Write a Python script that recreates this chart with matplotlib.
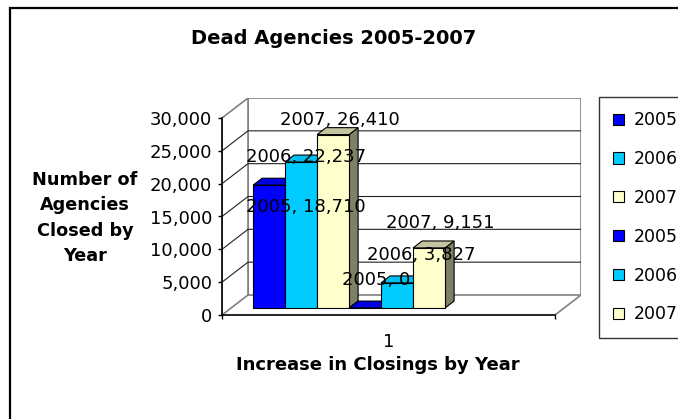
import matplotlib
matplotlib.use('Agg')
import matplotlib.pyplot as plt
from matplotlib.patches import Polygon, Rectangle, Patch

# data
series_names = ['2005', '2006', '2007', '2005', '2006', '2007']
closings = [18710, 22237, 26410, 0, 3827, 9151]
category = ['1']
y_ticks = [0, 5000, 10000, 15000, 20000, 25000, 30000]

front_colors = ['#0000FF', '#00CCFF', '#FFFFCC'] * 2
top_colors = ['#0000E0', '#00C0F0', '#C4C4A0'] * 2
side_colors = ['#000080', '#006680', '#808066'] * 2

W, H = 678, 419
fig = plt.figure(figsize=(W / 100, H / 100), dpi=100)

# plot box in pixels: front axis at x=222, zero at y=315, 30,000 at y=118
PX = 32.0                       # width of one bar
x0_px, y0_px = 222, 315
v_per_px = 30000 / 197
depth_px = (26, 20)

ax = fig.add_axes([x0_px / W, (H - y0_px) / H, 359 / W, 217 / H])
ax.set_xlim(0, 359 / PX)
ax.set_ylim(0, 217 * v_per_px)
DX = depth_px[0] / PX
DY = depth_px[1] * v_per_px
floor_w = 333 / PX
ymax = y_ticks[-1]


def shift(pts, t):
    return [(x + t * DX, y + t * DY) for x, y in pts]


# walls
ax.add_patch(Polygon(shift([(0, 0), (floor_w, 0), (floor_w, ymax), (0, ymax)], 1),
                     closed=True, fc='white', ec='#808080', lw=1.2, zorder=1))
ax.add_patch(Polygon([(0, 0), (DX, DY), (DX, DY + ymax), (0, ymax)],
                     closed=True, fc='white', ec='#808080', lw=1.2, zorder=1))
ax.plot([floor_w, floor_w + DX], [0, DY], color='#808080', lw=1.2, zorder=1)
for v in y_ticks[1:-1]:
    ax.plot([0, DX, DX + floor_w], [v, v + DY, v + DY], color='#222222', lw=0.8, zorder=1.5)

# bars
t0, t1 = 0.35, 0.35 + 9 / 26
dt = t1 - t0
bar_start = 22 / PX
for i, v in enumerate(closings):
    xl = bar_start + i
    z = 3 + i
    side = [(xl + 1, 0), (xl + 1, v), (xl + 1 + dt * DX, v + dt * DY), (xl + 1 + dt * DX, dt * DY)]
    top = [(xl, v), (xl + 1, v), (xl + 1 + dt * DX, v + dt * DY), (xl + dt * DX, v + dt * DY)]
    ax.add_patch(Polygon(shift(side, t0), closed=True, fc=side_colors[i], ec='black', lw=0.8, zorder=z))
    ax.add_patch(Polygon(shift(top, t0), closed=True, fc=top_colors[i], ec='black', lw=0.8, zorder=z))
    ax.bar(xl + t0 * DX, v, width=1, bottom=t0 * DY, align='edge', color=front_colors[i],
           edgecolor='black', lw=0.8, zorder=z + 0.1)

# axes lines and ticks
for s in ['top', 'right']:
    ax.spines[s].set_visible(False)
ax.spines['left'].set_bounds(0, ymax)
ax.spines['bottom'].set_bounds(0, floor_w)
for s in ['left', 'bottom']:
    ax.spines[s].set_linewidth(1.2)
    ax.spines[s].set_zorder(20)
ax.patch.set_visible(False)
ax.set_yticks(y_ticks)
ax.set_yticklabels([f'{v:,}' for v in y_ticks], fontsize=13)
ax.tick_params(axis='y', direction='out', length=3, width=1, pad=4)
ax.set_xticks([floor_w / 2])
ax.set_xticklabels(category, fontsize=13)
ax.tick_params(axis='x', which='major', length=0, pad=13)
ax.set_xticks([0, floor_w], minor=True)
ax.tick_params(axis='x', which='minor', direction='out', length=3, width=1)

# data labels (pixel positions as placed in the original)
label_px = [(306, 207), (306, 157), (340, 120), (376, 280), (421, 255), (440, 223)]
for name, v, (lx, ly) in zip(series_names, closings, label_px):
    fig.text(lx / W, 1 - ly / H, f'{name}, {v:,}', ha='center', va='center', fontsize=13, zorder=30)

# titles
fig.text(334 / W, 1 - 38 / H, 'Dead Agencies 2005-2007', ha='center', va='center',
         fontsize=14, fontweight='bold')
fig.text(85 / W, 1 - 218 / H, 'Number of\nAgencies\nClosed by\nYear', ha='center', va='center',
         fontsize=12.7, fontweight='bold', linespacing=1.53)
fig.text(378 / W, 1 - 365 / H, 'Increase in Closings by Year', ha='center', va='center',
         fontsize=13, fontweight='bold')

# legend
handles = [Patch(fc=c, ec='black', lw=0.8) for c in front_colors]
leg = fig.legend(handles, series_names, loc='upper left', bbox_to_anchor=(599 / W, 1 - 97 / H),
                 frameon=True, fancybox=False, edgecolor='black', fontsize=12.5,
                 handlelength=0.62, handleheight=0.62, handletextpad=0.55,
                 labelspacing=1.2, borderpad=0.82, borderaxespad=0)
leg.get_frame().set_linewidth(1)

# outer chart border
fig.patches.append(Rectangle((10 / W, -0.05), 1.05, 1 - 8 / H + 0.05, transform=fig.transFigure,
                             fill=False, ec='black', lw=1.6))

fig.savefig('out.png', dpi=100)
